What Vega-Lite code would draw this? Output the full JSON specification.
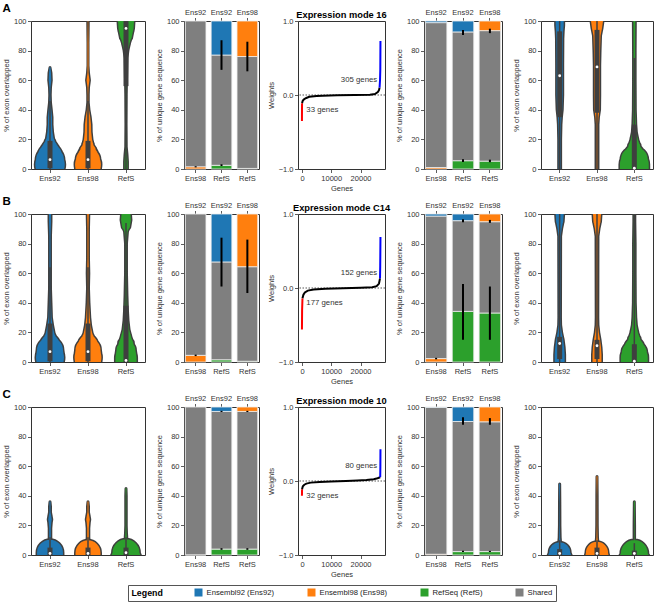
{
"$schema": "https://vega.github.io/schema/vega-lite/v6.json",
"padding": {"left": 1, "top": 2, "right": 2, "bottom": 2},
"datasets": {
"viol": [
{"p":"A1","c":"Ens92","y":0,"d":0.875},{"p":"A1","c":"Ens92","y":3,"d":0.92},{"p":"A1","c":"Ens92","y":6,"d":0.875},{"p":"A1","c":"Ens92","y":9,"d":0.75},{"p":"A1","c":"Ens92","y":12,"d":0.59},{"p":"A1","c":"Ens92","y":15,"d":0.44},{"p":"A1","c":"Ens92","y":18,"d":0.31},{"p":"A1","c":"Ens92","y":21,"d":0.22},{"p":"A1","c":"Ens92","y":25,"d":0.16},{"p":"A1","c":"Ens92","y":30,"d":0.125},{"p":"A1","c":"Ens92","y":35,"d":0.125},{"p":"A1","c":"Ens92","y":40,"d":0.08},{"p":"A1","c":"Ens92","y":45,"d":0.03},{"p":"A1","c":"Ens92","y":50,"d":0.015},{"p":"A1","c":"Ens92","y":55,"d":0.03},{"p":"A1","c":"Ens92","y":60,"d":0.08},{"p":"A1","c":"Ens92","y":65,"d":0.06},{"p":"A1","c":"Ens92","y":68.5,"d":0},
{"p":"A1","c":"Ens98","y":0,"d":0.78},{"p":"A1","c":"Ens98","y":3,"d":0.81},{"p":"A1","c":"Ens98","y":6,"d":0.75},{"p":"A1","c":"Ens98","y":9,"d":0.62},{"p":"A1","c":"Ens98","y":12,"d":0.5},{"p":"A1","c":"Ens98","y":16,"d":0.34},{"p":"A1","c":"Ens98","y":20,"d":0.25},{"p":"A1","c":"Ens98","y":25,"d":0.2},{"p":"A1","c":"Ens98","y":30,"d":0.19},{"p":"A1","c":"Ens98","y":35,"d":0.14},{"p":"A1","c":"Ens98","y":40,"d":0.06},{"p":"A1","c":"Ens98","y":45,"d":0.015},{"p":"A1","c":"Ens98","y":50,"d":0.015},{"p":"A1","c":"Ens98","y":55,"d":0.03},{"p":"A1","c":"Ens98","y":60,"d":0.09},{"p":"A1","c":"Ens98","y":65,"d":0.03},{"p":"A1","c":"Ens98","y":70,"d":0},{"p":"A1","c":"Ens98","y":85,"d":0},{"p":"A1","c":"Ens98","y":100,"d":0.015},
{"p":"A1","c":"RefS","y":0,"d":0.09},{"p":"A1","c":"RefS","y":5,"d":0.09},{"p":"A1","c":"RefS","y":10,"d":0.06},{"p":"A1","c":"RefS","y":15,"d":0.015},{"p":"A1","c":"RefS","y":30,"d":0.005},{"p":"A1","c":"RefS","y":50,"d":0.015},{"p":"A1","c":"RefS","y":60,"d":0.03},{"p":"A1","c":"RefS","y":70,"d":0.05},{"p":"A1","c":"RefS","y":75,"d":0.06},{"p":"A1","c":"RefS","y":80,"d":0.12},{"p":"A1","c":"RefS","y":85,"d":0.22},{"p":"A1","c":"RefS","y":90,"d":0.375},{"p":"A1","c":"RefS","y":95,"d":0.47},{"p":"A1","c":"RefS","y":100,"d":0.5},
{"p":"A5","c":"Ens92","y":0,"d":0.06},{"p":"A5","c":"Ens92","y":20,"d":0.06},{"p":"A5","c":"Ens92","y":30,"d":0.08},{"p":"A5","c":"Ens92","y":35,"d":0.11},{"p":"A5","c":"Ens92","y":40,"d":0.16},{"p":"A5","c":"Ens92","y":50,"d":0.19},{"p":"A5","c":"Ens92","y":70,"d":0.19},{"p":"A5","c":"Ens92","y":88,"d":0.2},{"p":"A5","c":"Ens92","y":93,"d":0.22},{"p":"A5","c":"Ens92","y":97,"d":0.25},{"p":"A5","c":"Ens92","y":100,"d":0.25},
{"p":"A5","c":"Ens98","y":0,"d":0.06},{"p":"A5","c":"Ens98","y":30,"d":0.06},{"p":"A5","c":"Ens98","y":35,"d":0.09},{"p":"A5","c":"Ens98","y":40,"d":0.16},{"p":"A5","c":"Ens98","y":50,"d":0.17},{"p":"A5","c":"Ens98","y":70,"d":0.17},{"p":"A5","c":"Ens98","y":80,"d":0.19},{"p":"A5","c":"Ens98","y":90,"d":0.22},{"p":"A5","c":"Ens98","y":95,"d":0.31},{"p":"A5","c":"Ens98","y":100,"d":0.375},
{"p":"A5","c":"RefS","y":0,"d":0.9},{"p":"A5","c":"RefS","y":3,"d":0.9},{"p":"A5","c":"RefS","y":6,"d":0.84},{"p":"A5","c":"RefS","y":10,"d":0.59},{"p":"A5","c":"RefS","y":15,"d":0.375},{"p":"A5","c":"RefS","y":20,"d":0.22},{"p":"A5","c":"RefS","y":25,"d":0.125},{"p":"A5","c":"RefS","y":30,"d":0.09},{"p":"A5","c":"RefS","y":40,"d":0.06},{"p":"A5","c":"RefS","y":60,"d":0.05},{"p":"A5","c":"RefS","y":80,"d":0.05},{"p":"A5","c":"RefS","y":100,"d":0.06},
{"p":"B1","c":"Ens92","y":0,"d":0.84},{"p":"B1","c":"Ens92","y":3,"d":0.875},{"p":"B1","c":"Ens92","y":8,"d":0.81},{"p":"B1","c":"Ens92","y":12,"d":0.59},{"p":"B1","c":"Ens92","y":16,"d":0.375},{"p":"B1","c":"Ens92","y":20,"d":0.25},{"p":"B1","c":"Ens92","y":25,"d":0.16},{"p":"B1","c":"Ens92","y":30,"d":0.09},{"p":"B1","c":"Ens92","y":40,"d":0.06},{"p":"B1","c":"Ens92","y":50,"d":0.03},{"p":"B1","c":"Ens92","y":85,"d":0.03},{"p":"B1","c":"Ens92","y":95,"d":0.06},{"p":"B1","c":"Ens92","y":100,"d":0.06},
{"p":"B1","c":"Ens98","y":0,"d":0.81},{"p":"B1","c":"Ens98","y":3,"d":0.84},{"p":"B1","c":"Ens98","y":8,"d":0.78},{"p":"B1","c":"Ens98","y":12,"d":0.59},{"p":"B1","c":"Ens98","y":16,"d":0.375},{"p":"B1","c":"Ens98","y":20,"d":0.25},{"p":"B1","c":"Ens98","y":25,"d":0.16},{"p":"B1","c":"Ens98","y":30,"d":0.11},{"p":"B1","c":"Ens98","y":40,"d":0.06},{"p":"B1","c":"Ens98","y":50,"d":0.03},{"p":"B1","c":"Ens98","y":60,"d":0.05},{"p":"B1","c":"Ens98","y":70,"d":0.03},{"p":"B1","c":"Ens98","y":90,"d":0.03},{"p":"B1","c":"Ens98","y":100,"d":0.05},
{"p":"B1","c":"RefS","y":0,"d":0.66},{"p":"B1","c":"RefS","y":3,"d":0.66},{"p":"B1","c":"RefS","y":8,"d":0.59},{"p":"B1","c":"RefS","y":12,"d":0.47},{"p":"B1","c":"RefS","y":17,"d":0.31},{"p":"B1","c":"RefS","y":22,"d":0.19},{"p":"B1","c":"RefS","y":28,"d":0.125},{"p":"B1","c":"RefS","y":35,"d":0.09},{"p":"B1","c":"RefS","y":45,"d":0.06},{"p":"B1","c":"RefS","y":60,"d":0.03},{"p":"B1","c":"RefS","y":80,"d":0.03},{"p":"B1","c":"RefS","y":88,"d":0.09},{"p":"B1","c":"RefS","y":92,"d":0.25},{"p":"B1","c":"RefS","y":96,"d":0.31},{"p":"B1","c":"RefS","y":100,"d":0.28},
{"p":"B5","c":"Ens92","y":0,"d":0.31},{"p":"B5","c":"Ens92","y":5,"d":0.31},{"p":"B5","c":"Ens92","y":10,"d":0.28},{"p":"B5","c":"Ens92","y":15,"d":0.22},{"p":"B5","c":"Ens92","y":20,"d":0.125},{"p":"B5","c":"Ens92","y":25,"d":0.06},{"p":"B5","c":"Ens92","y":30,"d":0.05},{"p":"B5","c":"Ens92","y":85,"d":0.06},{"p":"B5","c":"Ens92","y":90,"d":0.125},{"p":"B5","c":"Ens92","y":95,"d":0.22},{"p":"B5","c":"Ens92","y":100,"d":0.25},
{"p":"B5","c":"Ens98","y":0,"d":0.28},{"p":"B5","c":"Ens98","y":5,"d":0.28},{"p":"B5","c":"Ens98","y":10,"d":0.25},{"p":"B5","c":"Ens98","y":15,"d":0.19},{"p":"B5","c":"Ens98","y":20,"d":0.11},{"p":"B5","c":"Ens98","y":25,"d":0.06},{"p":"B5","c":"Ens98","y":30,"d":0.05},{"p":"B5","c":"Ens98","y":85,"d":0.06},{"p":"B5","c":"Ens98","y":90,"d":0.125},{"p":"B5","c":"Ens98","y":95,"d":0.22},{"p":"B5","c":"Ens98","y":100,"d":0.25},
{"p":"B5","c":"RefS","y":0,"d":0.84},{"p":"B5","c":"RefS","y":3,"d":0.84},{"p":"B5","c":"RefS","y":6,"d":0.78},{"p":"B5","c":"RefS","y":10,"d":0.59},{"p":"B5","c":"RefS","y":15,"d":0.375},{"p":"B5","c":"RefS","y":20,"d":0.22},{"p":"B5","c":"RefS","y":25,"d":0.125},{"p":"B5","c":"RefS","y":30,"d":0.09},{"p":"B5","c":"RefS","y":40,"d":0.06},{"p":"B5","c":"RefS","y":60,"d":0.05},{"p":"B5","c":"RefS","y":80,"d":0.05},{"p":"B5","c":"RefS","y":95,"d":0.03},{"p":"B5","c":"RefS","y":100,"d":0.03},
{"p":"C1","c":"Ens92","y":0,"d":0.81},{"p":"C1","c":"Ens92","y":1.5,"d":0.81},{"p":"C1","c":"Ens92","y":3,"d":0.53},{"p":"C1","c":"Ens92","y":5,"d":0.22},{"p":"C1","c":"Ens92","y":8,"d":0.09},{"p":"C1","c":"Ens92","y":12,"d":0.05},{"p":"C1","c":"Ens92","y":18,"d":0.05},{"p":"C1","c":"Ens92","y":22,"d":0.08},{"p":"C1","c":"Ens92","y":24,"d":0.11},{"p":"C1","c":"Ens92","y":26,"d":0.08},{"p":"C1","c":"Ens92","y":29,"d":0.03},{"p":"C1","c":"Ens92","y":33,"d":0.03},{"p":"C1","c":"Ens92","y":36,"d":0},
{"p":"C1","c":"Ens98","y":0,"d":0.78},{"p":"C1","c":"Ens98","y":1.5,"d":0.78},{"p":"C1","c":"Ens98","y":3,"d":0.5},{"p":"C1","c":"Ens98","y":5,"d":0.22},{"p":"C1","c":"Ens98","y":8,"d":0.09},{"p":"C1","c":"Ens98","y":12,"d":0.05},{"p":"C1","c":"Ens98","y":18,"d":0.05},{"p":"C1","c":"Ens98","y":22,"d":0.08},{"p":"C1","c":"Ens98","y":24,"d":0.11},{"p":"C1","c":"Ens98","y":26,"d":0.08},{"p":"C1","c":"Ens98","y":29,"d":0.03},{"p":"C1","c":"Ens98","y":33,"d":0.03},{"p":"C1","c":"Ens98","y":36,"d":0},
{"p":"C1","c":"RefS","y":0,"d":0.9},{"p":"C1","c":"RefS","y":1.5,"d":0.84},{"p":"C1","c":"RefS","y":3,"d":0.47},{"p":"C1","c":"RefS","y":6,"d":0.16},{"p":"C1","c":"RefS","y":10,"d":0.06},{"p":"C1","c":"RefS","y":15,"d":0.03},{"p":"C1","c":"RefS","y":20,"d":0.015},{"p":"C1","c":"RefS","y":40,"d":0.015},{"p":"C1","c":"RefS","y":45,"d":0},
{"p":"C5","c":"Ens92","y":0,"d":0.72},{"p":"C5","c":"Ens92","y":1.5,"d":0.66},{"p":"C5","c":"Ens92","y":3,"d":0.34},{"p":"C5","c":"Ens92","y":5,"d":0.16},{"p":"C5","c":"Ens92","y":8,"d":0.06},{"p":"C5","c":"Ens92","y":12,"d":0.03},{"p":"C5","c":"Ens92","y":20,"d":0.015},{"p":"C5","c":"Ens92","y":35,"d":0.01},{"p":"C5","c":"Ens92","y":48,"d":0},
{"p":"C5","c":"Ens98","y":0,"d":0.72},{"p":"C5","c":"Ens98","y":1.5,"d":0.69},{"p":"C5","c":"Ens98","y":3,"d":0.41},{"p":"C5","c":"Ens98","y":5,"d":0.22},{"p":"C5","c":"Ens98","y":8,"d":0.06},{"p":"C5","c":"Ens98","y":12,"d":0.03},{"p":"C5","c":"Ens98","y":20,"d":0.015},{"p":"C5","c":"Ens98","y":40,"d":0.01},{"p":"C5","c":"Ens98","y":53,"d":0},
{"p":"C5","c":"RefS","y":0,"d":0.9},{"p":"C5","c":"RefS","y":1,"d":0.84},{"p":"C5","c":"RefS","y":2,"d":0.53},{"p":"C5","c":"RefS","y":4,"d":0.16},{"p":"C5","c":"RefS","y":6,"d":0.06},{"p":"C5","c":"RefS","y":10,"d":0.015},{"p":"C5","c":"RefS","y":20,"d":0.015},{"p":"C5","c":"RefS","y":36,"d":0}
],
"box": [
{"p":"A1","c":"Ens92","q1":0.5,"q3":19,"med":6.3,"lo":0,"hi":46},{"p":"A1","c":"Ens98","q1":0.5,"q3":19,"med":6.3,"lo":0,"hi":46},{"p":"A1","c":"RefS","q1":56,"q3":100,"med":95,"lo":0,"hi":100},
{"p":"A5","c":"Ens92","q1":35,"q3":93,"med":63,"lo":0,"hi":100},{"p":"A5","c":"Ens98","q1":38,"q3":94,"med":69,"lo":0,"hi":100},{"p":"A5","c":"RefS","q1":0,"q3":30,"med":0.5,"lo":0,"hi":75},
{"p":"B1","c":"Ens92","q1":0.5,"q3":26,"med":7,"lo":0,"hi":64},{"p":"B1","c":"Ens98","q1":0.5,"q3":26,"med":7,"lo":0,"hi":64},{"p":"B1","c":"RefS","q1":0,"q3":38,"med":1,"lo":0,"hi":94},
{"p":"B5","c":"Ens92","q1":2,"q3":17,"med":12.5,"lo":0,"hi":100},{"p":"B5","c":"Ens98","q1":2,"q3":15,"med":11,"lo":0,"hi":100},{"p":"B5","c":"RefS","q1":0,"q3":12,"med":0.5,"lo":0,"hi":100},
{"p":"C1","c":"Ens92","q1":0,"q3":5,"med":1,"lo":0,"hi":12},{"p":"C1","c":"Ens98","q1":0,"q3":5,"med":1,"lo":0,"hi":12},{"p":"C1","c":"RefS","q1":0,"q3":5,"med":1.5,"lo":0,"hi":12},
{"p":"C5","c":"Ens92","q1":0,"q3":4,"med":1,"lo":0,"hi":10},{"p":"C5","c":"Ens98","q1":0,"q3":5,"med":1,"lo":0,"hi":10},{"p":"C5","c":"RefS","q1":0,"q3":3,"med":1,"lo":0,"hi":8}
],
"bars": [
{"p":"A2","pair":"Ens92 vs Ens98","src":"Ensembl98 (Ens98)","o":1,"v":1.5},{"p":"A2","pair":"Ens92 vs Ens98","src":"Shared","o":2,"v":98.5},
{"p":"A2","pair":"Ens92 vs RefS","src":"RefSeq (RefS)","o":1,"v":2.5},{"p":"A2","pair":"Ens92 vs RefS","src":"Shared","o":2,"v":74.5},{"p":"A2","pair":"Ens92 vs RefS","src":"Ensembl92 (Ens92)","o":3,"v":23},
{"p":"A2","pair":"Ens98 vs RefS","src":"RefSeq (RefS)","o":1,"v":0.4},{"p":"A2","pair":"Ens98 vs RefS","src":"Shared","o":2,"v":75.6},{"p":"A2","pair":"Ens98 vs RefS","src":"Ensembl98 (Ens98)","o":3,"v":24},
{"p":"A4","pair":"Ens92 vs Ens98","src":"Ensembl98 (Ens98)","o":1,"v":1.0},{"p":"A4","pair":"Ens92 vs Ens98","src":"Shared","o":2,"v":97.9},{"p":"A4","pair":"Ens92 vs Ens98","src":"Ensembl92 (Ens92)","o":3,"v":1.1},
{"p":"A4","pair":"Ens92 vs RefS","src":"RefSeq (RefS)","o":1,"v":5.6},{"p":"A4","pair":"Ens92 vs RefS","src":"Shared","o":2,"v":87.0},{"p":"A4","pair":"Ens92 vs RefS","src":"Ensembl92 (Ens92)","o":3,"v":7.4},
{"p":"A4","pair":"Ens98 vs RefS","src":"RefSeq (RefS)","o":1,"v":5.3},{"p":"A4","pair":"Ens98 vs RefS","src":"Shared","o":2,"v":88.2},{"p":"A4","pair":"Ens98 vs RefS","src":"Ensembl98 (Ens98)","o":3,"v":6.5},
{"p":"B2","pair":"Ens92 vs Ens98","src":"Ensembl98 (Ens98)","o":1,"v":4.5},{"p":"B2","pair":"Ens92 vs Ens98","src":"Shared","o":2,"v":95.5},
{"p":"B2","pair":"Ens92 vs RefS","src":"RefSeq (RefS)","o":1,"v":1.5},{"p":"B2","pair":"Ens92 vs RefS","src":"Shared","o":2,"v":66.1},{"p":"B2","pair":"Ens92 vs RefS","src":"Ensembl92 (Ens92)","o":3,"v":32.4},
{"p":"B2","pair":"Ens98 vs RefS","src":"RefSeq (RefS)","o":1,"v":0.5},{"p":"B2","pair":"Ens98 vs RefS","src":"Shared","o":2,"v":63.9},{"p":"B2","pair":"Ens98 vs RefS","src":"Ensembl98 (Ens98)","o":3,"v":35.6},
{"p":"B4","pair":"Ens92 vs Ens98","src":"Ensembl98 (Ens98)","o":1,"v":2.3},{"p":"B4","pair":"Ens92 vs Ens98","src":"Shared","o":2,"v":96.3},{"p":"B4","pair":"Ens92 vs Ens98","src":"Ensembl92 (Ens92)","o":3,"v":1.4},
{"p":"B4","pair":"Ens92 vs RefS","src":"RefSeq (RefS)","o":1,"v":34.2},{"p":"B4","pair":"Ens92 vs RefS","src":"Shared","o":2,"v":61.3},{"p":"B4","pair":"Ens92 vs RefS","src":"Ensembl92 (Ens92)","o":3,"v":4.5},
{"p":"B4","pair":"Ens98 vs RefS","src":"RefSeq (RefS)","o":1,"v":33.1},{"p":"B4","pair":"Ens98 vs RefS","src":"Shared","o":2,"v":61.7},{"p":"B4","pair":"Ens98 vs RefS","src":"Ensembl98 (Ens98)","o":3,"v":5.2},
{"p":"C2","pair":"Ens92 vs Ens98","src":"Ensembl98 (Ens98)","o":1,"v":0.1},{"p":"C2","pair":"Ens92 vs Ens98","src":"Shared","o":2,"v":99.9},
{"p":"C2","pair":"Ens92 vs RefS","src":"RefSeq (RefS)","o":1,"v":4},{"p":"C2","pair":"Ens92 vs RefS","src":"Shared","o":2,"v":93},{"p":"C2","pair":"Ens92 vs RefS","src":"Ensembl92 (Ens92)","o":3,"v":3},
{"p":"C2","pair":"Ens98 vs RefS","src":"RefSeq (RefS)","o":1,"v":4},{"p":"C2","pair":"Ens98 vs RefS","src":"Shared","o":2,"v":93},{"p":"C2","pair":"Ens98 vs RefS","src":"Ensembl98 (Ens98)","o":3,"v":3},
{"p":"C4","pair":"Ens92 vs Ens98","src":"Ensembl98 (Ens98)","o":1,"v":0.5},{"p":"C4","pair":"Ens92 vs Ens98","src":"Shared","o":2,"v":99.2},{"p":"C4","pair":"Ens92 vs Ens98","src":"Ensembl92 (Ens92)","o":3,"v":0.3},
{"p":"C4","pair":"Ens92 vs RefS","src":"RefSeq (RefS)","o":1,"v":2.3},{"p":"C4","pair":"Ens92 vs RefS","src":"Shared","o":2,"v":87.9},{"p":"C4","pair":"Ens92 vs RefS","src":"Ensembl92 (Ens92)","o":3,"v":9.8},
{"p":"C4","pair":"Ens98 vs RefS","src":"RefSeq (RefS)","o":1,"v":2.3},{"p":"C4","pair":"Ens98 vs RefS","src":"Shared","o":2,"v":87.7},{"p":"C4","pair":"Ens98 vs RefS","src":"Ensembl98 (Ens98)","o":3,"v":10}
],
"errs": [
{"p":"A2","pair":"Ens92 vs Ens98","lo":1.1,"hi":1.9},{"p":"A2","pair":"Ens92 vs RefS","lo":2.0,"hi":3.2},{"p":"A2","pair":"Ens92 vs RefS","lo":67,"hi":87},{"p":"A2","pair":"Ens98 vs RefS","lo":66,"hi":86},
{"p":"A4","pair":"Ens92 vs RefS","lo":4.8,"hi":6.6},{"p":"A4","pair":"Ens92 vs RefS","lo":90.5,"hi":94},{"p":"A4","pair":"Ens98 vs RefS","lo":4.6,"hi":6.3},{"p":"A4","pair":"Ens98 vs RefS","lo":91.8,"hi":94.8},
{"p":"B2","pair":"Ens92 vs Ens98","lo":4,"hi":5},{"p":"B2","pair":"Ens92 vs RefS","lo":51,"hi":84},{"p":"B2","pair":"Ens98 vs RefS","lo":46.6,"hi":82.7},
{"p":"B4","pair":"Ens92 vs Ens98","lo":1.8,"hi":2.8},{"p":"B4","pair":"Ens92 vs RefS","lo":15,"hi":52.7},{"p":"B4","pair":"Ens92 vs RefS","lo":94.5,"hi":96.4},{"p":"B4","pair":"Ens98 vs RefS","lo":15,"hi":51},{"p":"B4","pair":"Ens98 vs RefS","lo":94,"hi":96},
{"p":"C2","pair":"Ens92 vs RefS","lo":3.5,"hi":4.6},{"p":"C2","pair":"Ens92 vs RefS","lo":96.6,"hi":97.4},{"p":"C2","pair":"Ens98 vs RefS","lo":3.5,"hi":4.6},{"p":"C2","pair":"Ens98 vs RefS","lo":96.6,"hi":97.4},
{"p":"C4","pair":"Ens92 vs RefS","lo":2,"hi":2.8},{"p":"C4","pair":"Ens92 vs RefS","lo":88,"hi":93.1},{"p":"C4","pair":"Ens98 vs RefS","lo":2,"hi":2.8},{"p":"C4","pair":"Ens98 vs RefS","lo":88,"hi":92.5}
],
"lines": [
{"p":"A3","s":"neg","x":0,"w":-0.35},{"p":"A3","s":"neg","x":12,"w":-0.2},{"p":"A3","s":"neg","x":33,"w":-0.11},
{"p":"A3","s":"mid","x":33,"w":-0.11},{"p":"A3","s":"mid","x":300,"w":-0.075},{"p":"A3","s":"mid","x":800,"w":-0.054},{"p":"A3","s":"mid","x":1500,"w":-0.04},{"p":"A3","s":"mid","x":2500,"w":-0.025},{"p":"A3","s":"mid","x":5000,"w":-0.014},{"p":"A3","s":"mid","x":7100,"w":-0.009},{"p":"A3","s":"mid","x":12000,"w":-0.004},{"p":"A3","s":"mid","x":18000,"w":0},{"p":"A3","s":"mid","x":23200,"w":0.004},{"p":"A3","s":"mid","x":24900,"w":0.014},{"p":"A3","s":"mid","x":25900,"w":0.04},{"p":"A3","s":"mid","x":26300,"w":0.065},{"p":"A3","s":"mid","x":26495,"w":0.1},
{"p":"A3","s":"pos","x":26495,"w":0.1},{"p":"A3","s":"pos","x":26650,"w":0.2},{"p":"A3","s":"pos","x":26750,"w":0.35},{"p":"A3","s":"pos","x":26800,"w":0.73},
{"p":"B3","s":"neg","x":0,"w":-0.56},{"p":"B3","s":"neg","x":50,"w":-0.3},{"p":"B3","s":"neg","x":177,"w":-0.14},
{"p":"B3","s":"mid","x":177,"w":-0.14},{"p":"B3","s":"mid","x":500,"w":-0.09},{"p":"B3","s":"mid","x":1000,"w":-0.06},{"p":"B3","s":"mid","x":2000,"w":-0.035},{"p":"B3","s":"mid","x":4000,"w":-0.02},{"p":"B3","s":"mid","x":8000,"w":-0.01},{"p":"B3","s":"mid","x":14000,"w":-0.003},{"p":"B3","s":"mid","x":20000,"w":0.003},{"p":"B3","s":"mid","x":24000,"w":0.01},{"p":"B3","s":"mid","x":25500,"w":0.025},{"p":"B3","s":"mid","x":26300,"w":0.06},{"p":"B3","s":"mid","x":26648,"w":0.13},
{"p":"B3","s":"pos","x":26648,"w":0.13},{"p":"B3","s":"pos","x":26720,"w":0.3},{"p":"B3","s":"pos","x":26800,"w":0.69},
{"p":"C3","s":"neg","x":0,"w":-0.2},{"p":"C3","s":"neg","x":32,"w":-0.11},
{"p":"C3","s":"mid","x":32,"w":-0.11},{"p":"C3","s":"mid","x":300,"w":-0.07},{"p":"C3","s":"mid","x":800,"w":-0.05},{"p":"C3","s":"mid","x":1500,"w":-0.035},{"p":"C3","s":"mid","x":3000,"w":-0.022},{"p":"C3","s":"mid","x":6000,"w":-0.012},{"p":"C3","s":"mid","x":10000,"w":-0.006},{"p":"C3","s":"mid","x":15000,"w":0},{"p":"C3","s":"mid","x":19000,"w":0.006},{"p":"C3","s":"mid","x":22000,"w":0.013},{"p":"C3","s":"mid","x":24500,"w":0.025},{"p":"C3","s":"mid","x":25800,"w":0.038},{"p":"C3","s":"mid","x":26720,"w":0.05},
{"p":"C3","s":"pos","x":26720,"w":0.05},{"p":"C3","s":"pos","x":26770,"w":0.2},{"p":"C3","s":"pos","x":26800,"w":0.43}
],
"ann": [
{"p":"A3","side":"pos","label":"305 genes"},{"p":"A3","side":"neg","label":"33 genes"},
{"p":"B3","side":"pos","label":"152 genes"},{"p":"B3","side":"neg","label":"177 genes"},
{"p":"C3","side":"pos","label":"80 genes"},{"p":"C3","side":"neg","label":"32 genes"}
],
"leg": [{"src":"Ensembl92 (Ens92)"},{"src":"Ensembl98 (Ens98)"},{"src":"RefSeq (RefS)"},{"src":"Shared"}]
},
"concat": [
{"width":114,"height":148,"title":{"text":"A","anchor":"start","frame":"bounds","fontSize":11.5,"offset":3},
"layer":[
{"data":{"name":"viol"},"transform":[{"filter":"datum.p==='A1'"}],"mark":{"type":"trail","color":"#3f3f3f","clip":true},"encoding":{"x":{"field":"c","type":"nominal","axis":{"title":null,"labelAngle":0}},"y":{"field":"y","type":"quantitative","scale":{"domain":[0,100],"nice":false},"title":"% of exon overlapped","axis":{"values":[0,20,40,60,80,100]}},"detail":{"field":"c"},"order":{"field":"y","type":"quantitative"},"size":{"field":"d","type":"quantitative","scale":{"domain":[0,1],"range":[3,35]},"legend":null}}},
{"data":{"name":"viol"},"transform":[{"filter":"datum.p==='A1'"}],"mark":{"type":"trail","clip":true},"encoding":{"x":{"field":"c","type":"nominal","axis":{"title":null,"labelAngle":0}},"y":{"field":"y","type":"quantitative","scale":{"domain":[0,100],"nice":false},"title":"% of exon overlapped","axis":{"values":[0,20,40,60,80,100]}},"color":{"field":"c","type":"nominal","scale":{"domain":["Ens92","Ens98","RefS"],"range":["#1f77b4","#ff7f0e","#2ca02c"]},"legend":null},"order":{"field":"y","type":"quantitative"},"size":{"field":"d","type":"quantitative","scale":{"domain":[0,1],"range":[0,32]},"legend":null}}},
{"data":{"name":"box"},"transform":[{"filter":"datum.p==='A1'"}],"mark":{"type":"rule","color":"#3f3f3f","strokeWidth":1.5},"encoding":{"x":{"field":"c","type":"nominal","axis":{"title":null,"labelAngle":0}},"y":{"field":"lo","type":"quantitative","scale":{"domain":[0,100],"nice":false},"title":"% of exon overlapped","axis":{"values":[0,20,40,60,80,100]}},"y2":{"field":"hi"}}},
{"data":{"name":"box"},"transform":[{"filter":"datum.p==='A1'"}],"mark":{"type":"rule","color":"#3f3f3f","strokeWidth":5},"encoding":{"x":{"field":"c","type":"nominal","axis":{"title":null,"labelAngle":0}},"y":{"field":"q1","type":"quantitative","scale":{"domain":[0,100],"nice":false},"title":"% of exon overlapped","axis":{"values":[0,20,40,60,80,100]}},"y2":{"field":"q3"}}},
{"data":{"name":"box"},"transform":[{"filter":"datum.p==='A1'"}],"mark":{"type":"point","filled":true,"color":"#ffffff","opacity":1,"size":8},"encoding":{"x":{"field":"c","type":"nominal","axis":{"title":null,"labelAngle":0}},"y":{"field":"med","type":"quantitative","scale":{"domain":[0,100],"nice":false},"title":"% of exon overlapped","axis":{"values":[0,20,40,60,80,100]}}}}
],"resolve":{"scale":{"size":"independent"}}},
{"width":75,"height":148,
"layer":[
{"data":{"name":"bars"},"transform":[{"filter":"datum.p==='A2'"}],"mark":{"type":"bar","stroke":"#eeeeee","strokeWidth":0.8},"encoding":{"x":{"field":"pair","type":"nominal","scale":{"paddingInner":0.2,"paddingOuter":0.05},"axis":{"orient":"bottom","title":null,"labelAngle":0,"labelExpr":"split(datum.value, ' vs ')[1]"}},"y":{"field":"v","type":"quantitative","stack":"zero","scale":{"domain":[0,100],"nice":false},"title":"% of unique gene sequence","axis":{"values":[0,20,40,60,80,100]}},"color":{"field":"src","type":"nominal","scale":{"domain":["Ensembl92 (Ens92)","Ensembl98 (Ens98)","RefSeq (RefS)","Shared"],"range":["#1f77b4","#ff7f0e","#2ca02c","#7f7f7f"]},"legend":null},"order":{"field":"o","type":"quantitative"}}},
{"data":{"name":"errs"},"transform":[{"filter":"datum.p==='A2'"}],"mark":{"type":"rule","color":"#000000","strokeWidth":2},"encoding":{"x":{"field":"pair","type":"nominal","axis":{"orient":"top","title":null,"labelAngle":0,"labelExpr":"split(datum.value, ' vs ')[0]"}},"y":{"field":"lo","type":"quantitative","scale":{"domain":[0,100],"nice":false},"title":"% of unique gene sequence","axis":{"values":[0,20,40,60,80,100]}},"y2":{"field":"hi"}}}
],"resolve":{"axis":{"x":"independent"}}},
{"width":87,"height":148,"title":{"text":"Expression mode 16","fontSize":9.3,"anchor":"middle","frame":"group","offset":-3},
"layer":[
{"data":{"values":[{}]},"mark":{"type":"rule","color":"#444444","strokeDash":[1.5,1.5],"strokeWidth":0.9},"encoding":{"y":{"datum":0,"type":"quantitative","scale":{"domain":[-1,1],"nice":false},"title":"Weights","axis":{"values":[-1,-0.5,0,0.5,1],"format":".1f"}}}},
{"data":{"name":"lines"},"transform":[{"filter":"datum.p==='A3'"}],"mark":{"type":"line","strokeWidth":2,"clip":true},"encoding":{"x":{"field":"x","type":"quantitative","scale":{"domain":[-1350,28350],"nice":false,"zero":false},"title":"Genes","axis":{"values":[0,10000,20000],"format":"d"}},"y":{"field":"w","type":"quantitative","scale":{"domain":[-1,1],"nice":false},"title":"Weights","axis":{"values":[-1,-0.5,0,0.5,1],"format":".1f"}},"color":{"field":"s","type":"nominal","scale":{"domain":["neg","mid","pos"],"range":["#ff0000","#000000","#0000ff"]},"legend":null},"order":{"field":"x","type":"quantitative"}}},
{"data":{"name":"ann"},"transform":[{"filter":"datum.p==='A3' && datum.side==='pos'"}],"mark":{"type":"text","align":"right","baseline":"middle","fontSize":7.8,"color":"#333333"},"encoding":{"x":{"datum":25700,"type":"quantitative"},"y":{"datum":0.2,"type":"quantitative"},"text":{"field":"label"}}},
{"data":{"name":"ann"},"transform":[{"filter":"datum.p==='A3' && datum.side==='neg'"}],"mark":{"type":"text","align":"left","baseline":"middle","fontSize":7.8,"color":"#333333"},"encoding":{"x":{"datum":1500,"type":"quantitative"},"y":{"datum":-0.2,"type":"quantitative"},"text":{"field":"label"}}}
]},
{"width":78,"height":148,
"layer":[
{"data":{"name":"bars"},"transform":[{"filter":"datum.p==='A4'"}],"mark":{"type":"bar","stroke":"#eeeeee","strokeWidth":0.8},"encoding":{"x":{"field":"pair","type":"nominal","scale":{"paddingInner":0.2,"paddingOuter":0.05},"axis":{"orient":"bottom","title":null,"labelAngle":0,"labelExpr":"split(datum.value, ' vs ')[1]"}},"y":{"field":"v","type":"quantitative","stack":"zero","scale":{"domain":[0,100],"nice":false},"title":"% of unique gene sequence","axis":{"values":[0,20,40,60,80,100]}},"color":{"field":"src","type":"nominal","scale":{"domain":["Ensembl92 (Ens92)","Ensembl98 (Ens98)","RefSeq (RefS)","Shared"],"range":["#1f77b4","#ff7f0e","#2ca02c","#7f7f7f"]},"legend":null},"order":{"field":"o","type":"quantitative"}}},
{"data":{"name":"errs"},"transform":[{"filter":"datum.p==='A4'"}],"mark":{"type":"rule","color":"#000000","strokeWidth":2},"encoding":{"x":{"field":"pair","type":"nominal","axis":{"orient":"top","title":null,"labelAngle":0,"labelExpr":"split(datum.value, ' vs ')[0]"}},"y":{"field":"lo","type":"quantitative","scale":{"domain":[0,100],"nice":false},"title":"% of unique gene sequence","axis":{"values":[0,20,40,60,80,100]}},"y2":{"field":"hi"}}}
],"resolve":{"axis":{"x":"independent"}}},
{"width":112,"height":148,
"layer":[
{"data":{"name":"viol"},"transform":[{"filter":"datum.p==='A5'"}],"mark":{"type":"trail","color":"#3f3f3f","clip":true},"encoding":{"x":{"field":"c","type":"nominal","axis":{"title":null,"labelAngle":0}},"y":{"field":"y","type":"quantitative","scale":{"domain":[0,100],"nice":false},"title":"% of exon overlapped","axis":{"values":[0,20,40,60,80,100]}},"detail":{"field":"c"},"order":{"field":"y","type":"quantitative"},"size":{"field":"d","type":"quantitative","scale":{"domain":[0,1],"range":[3,35]},"legend":null}}},
{"data":{"name":"viol"},"transform":[{"filter":"datum.p==='A5'"}],"mark":{"type":"trail","clip":true},"encoding":{"x":{"field":"c","type":"nominal","axis":{"title":null,"labelAngle":0}},"y":{"field":"y","type":"quantitative","scale":{"domain":[0,100],"nice":false},"title":"% of exon overlapped","axis":{"values":[0,20,40,60,80,100]}},"color":{"field":"c","type":"nominal","scale":{"domain":["Ens92","Ens98","RefS"],"range":["#1f77b4","#ff7f0e","#2ca02c"]},"legend":null},"order":{"field":"y","type":"quantitative"},"size":{"field":"d","type":"quantitative","scale":{"domain":[0,1],"range":[0,32]},"legend":null}}},
{"data":{"name":"box"},"transform":[{"filter":"datum.p==='A5'"}],"mark":{"type":"rule","color":"#3f3f3f","strokeWidth":1.5},"encoding":{"x":{"field":"c","type":"nominal","axis":{"title":null,"labelAngle":0}},"y":{"field":"lo","type":"quantitative","scale":{"domain":[0,100],"nice":false},"title":"% of exon overlapped","axis":{"values":[0,20,40,60,80,100]}},"y2":{"field":"hi"}}},
{"data":{"name":"box"},"transform":[{"filter":"datum.p==='A5'"}],"mark":{"type":"rule","color":"#3f3f3f","strokeWidth":5},"encoding":{"x":{"field":"c","type":"nominal","axis":{"title":null,"labelAngle":0}},"y":{"field":"q1","type":"quantitative","scale":{"domain":[0,100],"nice":false},"title":"% of exon overlapped","axis":{"values":[0,20,40,60,80,100]}},"y2":{"field":"q3"}}},
{"data":{"name":"box"},"transform":[{"filter":"datum.p==='A5'"}],"mark":{"type":"point","filled":true,"color":"#ffffff","opacity":1,"size":8},"encoding":{"x":{"field":"c","type":"nominal","axis":{"title":null,"labelAngle":0}},"y":{"field":"med","type":"quantitative","scale":{"domain":[0,100],"nice":false},"title":"% of exon overlapped","axis":{"values":[0,20,40,60,80,100]}}}}
],"resolve":{"scale":{"size":"independent"}}},

{"width":114,"height":148,"title":{"text":"B","anchor":"start","frame":"bounds","fontSize":11.5,"offset":3},
"layer":[
{"data":{"name":"viol"},"transform":[{"filter":"datum.p==='B1'"}],"mark":{"type":"trail","color":"#3f3f3f","clip":true},"encoding":{"x":{"field":"c","type":"nominal","axis":{"title":null,"labelAngle":0}},"y":{"field":"y","type":"quantitative","scale":{"domain":[0,100],"nice":false},"title":"% of exon overlapped","axis":{"values":[0,20,40,60,80,100]}},"detail":{"field":"c"},"order":{"field":"y","type":"quantitative"},"size":{"field":"d","type":"quantitative","scale":{"domain":[0,1],"range":[3,35]},"legend":null}}},
{"data":{"name":"viol"},"transform":[{"filter":"datum.p==='B1'"}],"mark":{"type":"trail","clip":true},"encoding":{"x":{"field":"c","type":"nominal","axis":{"title":null,"labelAngle":0}},"y":{"field":"y","type":"quantitative","scale":{"domain":[0,100],"nice":false},"title":"% of exon overlapped","axis":{"values":[0,20,40,60,80,100]}},"color":{"field":"c","type":"nominal","scale":{"domain":["Ens92","Ens98","RefS"],"range":["#1f77b4","#ff7f0e","#2ca02c"]},"legend":null},"order":{"field":"y","type":"quantitative"},"size":{"field":"d","type":"quantitative","scale":{"domain":[0,1],"range":[0,32]},"legend":null}}},
{"data":{"name":"box"},"transform":[{"filter":"datum.p==='B1'"}],"mark":{"type":"rule","color":"#3f3f3f","strokeWidth":1.5},"encoding":{"x":{"field":"c","type":"nominal","axis":{"title":null,"labelAngle":0}},"y":{"field":"lo","type":"quantitative","scale":{"domain":[0,100],"nice":false},"title":"% of exon overlapped","axis":{"values":[0,20,40,60,80,100]}},"y2":{"field":"hi"}}},
{"data":{"name":"box"},"transform":[{"filter":"datum.p==='B1'"}],"mark":{"type":"rule","color":"#3f3f3f","strokeWidth":5},"encoding":{"x":{"field":"c","type":"nominal","axis":{"title":null,"labelAngle":0}},"y":{"field":"q1","type":"quantitative","scale":{"domain":[0,100],"nice":false},"title":"% of exon overlapped","axis":{"values":[0,20,40,60,80,100]}},"y2":{"field":"q3"}}},
{"data":{"name":"box"},"transform":[{"filter":"datum.p==='B1'"}],"mark":{"type":"point","filled":true,"color":"#ffffff","opacity":1,"size":8},"encoding":{"x":{"field":"c","type":"nominal","axis":{"title":null,"labelAngle":0}},"y":{"field":"med","type":"quantitative","scale":{"domain":[0,100],"nice":false},"title":"% of exon overlapped","axis":{"values":[0,20,40,60,80,100]}}}}
],"resolve":{"scale":{"size":"independent"}}},
{"width":75,"height":148,
"layer":[
{"data":{"name":"bars"},"transform":[{"filter":"datum.p==='B2'"}],"mark":{"type":"bar","stroke":"#eeeeee","strokeWidth":0.8},"encoding":{"x":{"field":"pair","type":"nominal","scale":{"paddingInner":0.2,"paddingOuter":0.05},"axis":{"orient":"bottom","title":null,"labelAngle":0,"labelExpr":"split(datum.value, ' vs ')[1]"}},"y":{"field":"v","type":"quantitative","stack":"zero","scale":{"domain":[0,100],"nice":false},"title":"% of unique gene sequence","axis":{"values":[0,20,40,60,80,100]}},"color":{"field":"src","type":"nominal","scale":{"domain":["Ensembl92 (Ens92)","Ensembl98 (Ens98)","RefSeq (RefS)","Shared"],"range":["#1f77b4","#ff7f0e","#2ca02c","#7f7f7f"]},"legend":null},"order":{"field":"o","type":"quantitative"}}},
{"data":{"name":"errs"},"transform":[{"filter":"datum.p==='B2'"}],"mark":{"type":"rule","color":"#000000","strokeWidth":2},"encoding":{"x":{"field":"pair","type":"nominal","axis":{"orient":"top","title":null,"labelAngle":0,"labelExpr":"split(datum.value, ' vs ')[0]"}},"y":{"field":"lo","type":"quantitative","scale":{"domain":[0,100],"nice":false},"title":"% of unique gene sequence","axis":{"values":[0,20,40,60,80,100]}},"y2":{"field":"hi"}}}
],"resolve":{"axis":{"x":"independent"}}},
{"width":87,"height":148,"title":{"text":"Expression mode C14","fontSize":9.3,"anchor":"middle","frame":"group","offset":-3},
"layer":[
{"data":{"values":[{}]},"mark":{"type":"rule","color":"#444444","strokeDash":[1.5,1.5],"strokeWidth":0.9},"encoding":{"y":{"datum":0,"type":"quantitative","scale":{"domain":[-1,1],"nice":false},"title":"Weights","axis":{"values":[-1,-0.5,0,0.5,1],"format":".1f"}}}},
{"data":{"name":"lines"},"transform":[{"filter":"datum.p==='B3'"}],"mark":{"type":"line","strokeWidth":2,"clip":true},"encoding":{"x":{"field":"x","type":"quantitative","scale":{"domain":[-1350,28350],"nice":false,"zero":false},"title":"Genes","axis":{"values":[0,10000,20000],"format":"d"}},"y":{"field":"w","type":"quantitative","scale":{"domain":[-1,1],"nice":false},"title":"Weights","axis":{"values":[-1,-0.5,0,0.5,1],"format":".1f"}},"color":{"field":"s","type":"nominal","scale":{"domain":["neg","mid","pos"],"range":["#ff0000","#000000","#0000ff"]},"legend":null},"order":{"field":"x","type":"quantitative"}}},
{"data":{"name":"ann"},"transform":[{"filter":"datum.p==='B3' && datum.side==='pos'"}],"mark":{"type":"text","align":"right","baseline":"middle","fontSize":7.8,"color":"#333333"},"encoding":{"x":{"datum":25700,"type":"quantitative"},"y":{"datum":0.2,"type":"quantitative"},"text":{"field":"label"}}},
{"data":{"name":"ann"},"transform":[{"filter":"datum.p==='B3' && datum.side==='neg'"}],"mark":{"type":"text","align":"left","baseline":"middle","fontSize":7.8,"color":"#333333"},"encoding":{"x":{"datum":1500,"type":"quantitative"},"y":{"datum":-0.2,"type":"quantitative"},"text":{"field":"label"}}}
]},
{"width":78,"height":148,
"layer":[
{"data":{"name":"bars"},"transform":[{"filter":"datum.p==='B4'"}],"mark":{"type":"bar","stroke":"#eeeeee","strokeWidth":0.8},"encoding":{"x":{"field":"pair","type":"nominal","scale":{"paddingInner":0.2,"paddingOuter":0.05},"axis":{"orient":"bottom","title":null,"labelAngle":0,"labelExpr":"split(datum.value, ' vs ')[1]"}},"y":{"field":"v","type":"quantitative","stack":"zero","scale":{"domain":[0,100],"nice":false},"title":"% of unique gene sequence","axis":{"values":[0,20,40,60,80,100]}},"color":{"field":"src","type":"nominal","scale":{"domain":["Ensembl92 (Ens92)","Ensembl98 (Ens98)","RefSeq (RefS)","Shared"],"range":["#1f77b4","#ff7f0e","#2ca02c","#7f7f7f"]},"legend":null},"order":{"field":"o","type":"quantitative"}}},
{"data":{"name":"errs"},"transform":[{"filter":"datum.p==='B4'"}],"mark":{"type":"rule","color":"#000000","strokeWidth":2},"encoding":{"x":{"field":"pair","type":"nominal","axis":{"orient":"top","title":null,"labelAngle":0,"labelExpr":"split(datum.value, ' vs ')[0]"}},"y":{"field":"lo","type":"quantitative","scale":{"domain":[0,100],"nice":false},"title":"% of unique gene sequence","axis":{"values":[0,20,40,60,80,100]}},"y2":{"field":"hi"}}}
],"resolve":{"axis":{"x":"independent"}}},
{"width":112,"height":148,
"layer":[
{"data":{"name":"viol"},"transform":[{"filter":"datum.p==='B5'"}],"mark":{"type":"trail","color":"#3f3f3f","clip":true},"encoding":{"x":{"field":"c","type":"nominal","axis":{"title":null,"labelAngle":0}},"y":{"field":"y","type":"quantitative","scale":{"domain":[0,100],"nice":false},"title":"% of exon overlapped","axis":{"values":[0,20,40,60,80,100]}},"detail":{"field":"c"},"order":{"field":"y","type":"quantitative"},"size":{"field":"d","type":"quantitative","scale":{"domain":[0,1],"range":[3,35]},"legend":null}}},
{"data":{"name":"viol"},"transform":[{"filter":"datum.p==='B5'"}],"mark":{"type":"trail","clip":true},"encoding":{"x":{"field":"c","type":"nominal","axis":{"title":null,"labelAngle":0}},"y":{"field":"y","type":"quantitative","scale":{"domain":[0,100],"nice":false},"title":"% of exon overlapped","axis":{"values":[0,20,40,60,80,100]}},"color":{"field":"c","type":"nominal","scale":{"domain":["Ens92","Ens98","RefS"],"range":["#1f77b4","#ff7f0e","#2ca02c"]},"legend":null},"order":{"field":"y","type":"quantitative"},"size":{"field":"d","type":"quantitative","scale":{"domain":[0,1],"range":[0,32]},"legend":null}}},
{"data":{"name":"box"},"transform":[{"filter":"datum.p==='B5'"}],"mark":{"type":"rule","color":"#3f3f3f","strokeWidth":1.5},"encoding":{"x":{"field":"c","type":"nominal","axis":{"title":null,"labelAngle":0}},"y":{"field":"lo","type":"quantitative","scale":{"domain":[0,100],"nice":false},"title":"% of exon overlapped","axis":{"values":[0,20,40,60,80,100]}},"y2":{"field":"hi"}}},
{"data":{"name":"box"},"transform":[{"filter":"datum.p==='B5'"}],"mark":{"type":"rule","color":"#3f3f3f","strokeWidth":5},"encoding":{"x":{"field":"c","type":"nominal","axis":{"title":null,"labelAngle":0}},"y":{"field":"q1","type":"quantitative","scale":{"domain":[0,100],"nice":false},"title":"% of exon overlapped","axis":{"values":[0,20,40,60,80,100]}},"y2":{"field":"q3"}}},
{"data":{"name":"box"},"transform":[{"filter":"datum.p==='B5'"}],"mark":{"type":"point","filled":true,"color":"#ffffff","opacity":1,"size":8},"encoding":{"x":{"field":"c","type":"nominal","axis":{"title":null,"labelAngle":0}},"y":{"field":"med","type":"quantitative","scale":{"domain":[0,100],"nice":false},"title":"% of exon overlapped","axis":{"values":[0,20,40,60,80,100]}}}}
],"resolve":{"scale":{"size":"independent"}}},

{"width":114,"height":148,"title":{"text":"C","anchor":"start","frame":"bounds","fontSize":11.5,"offset":3},
"layer":[
{"data":{"name":"viol"},"transform":[{"filter":"datum.p==='C1'"}],"mark":{"type":"trail","color":"#3f3f3f","clip":true},"encoding":{"x":{"field":"c","type":"nominal","axis":{"title":null,"labelAngle":0}},"y":{"field":"y","type":"quantitative","scale":{"domain":[0,100],"nice":false},"title":"% of exon overlapped","axis":{"values":[0,20,40,60,80,100]}},"detail":{"field":"c"},"order":{"field":"y","type":"quantitative"},"size":{"field":"d","type":"quantitative","scale":{"domain":[0,1],"range":[3,35]},"legend":null}}},
{"data":{"name":"viol"},"transform":[{"filter":"datum.p==='C1'"}],"mark":{"type":"trail","clip":true},"encoding":{"x":{"field":"c","type":"nominal","axis":{"title":null,"labelAngle":0}},"y":{"field":"y","type":"quantitative","scale":{"domain":[0,100],"nice":false},"title":"% of exon overlapped","axis":{"values":[0,20,40,60,80,100]}},"color":{"field":"c","type":"nominal","scale":{"domain":["Ens92","Ens98","RefS"],"range":["#1f77b4","#ff7f0e","#2ca02c"]},"legend":null},"order":{"field":"y","type":"quantitative"},"size":{"field":"d","type":"quantitative","scale":{"domain":[0,1],"range":[0,32]},"legend":null}}},
{"data":{"name":"box"},"transform":[{"filter":"datum.p==='C1'"}],"mark":{"type":"rule","color":"#3f3f3f","strokeWidth":1.5},"encoding":{"x":{"field":"c","type":"nominal","axis":{"title":null,"labelAngle":0}},"y":{"field":"lo","type":"quantitative","scale":{"domain":[0,100],"nice":false},"title":"% of exon overlapped","axis":{"values":[0,20,40,60,80,100]}},"y2":{"field":"hi"}}},
{"data":{"name":"box"},"transform":[{"filter":"datum.p==='C1'"}],"mark":{"type":"rule","color":"#3f3f3f","strokeWidth":5},"encoding":{"x":{"field":"c","type":"nominal","axis":{"title":null,"labelAngle":0}},"y":{"field":"q1","type":"quantitative","scale":{"domain":[0,100],"nice":false},"title":"% of exon overlapped","axis":{"values":[0,20,40,60,80,100]}},"y2":{"field":"q3"}}},
{"data":{"name":"box"},"transform":[{"filter":"datum.p==='C1'"}],"mark":{"type":"point","filled":true,"color":"#ffffff","opacity":1,"size":8},"encoding":{"x":{"field":"c","type":"nominal","axis":{"title":null,"labelAngle":0}},"y":{"field":"med","type":"quantitative","scale":{"domain":[0,100],"nice":false},"title":"% of exon overlapped","axis":{"values":[0,20,40,60,80,100]}}}}
],"resolve":{"scale":{"size":"independent"}}},
{"width":75,"height":148,
"layer":[
{"data":{"name":"bars"},"transform":[{"filter":"datum.p==='C2'"}],"mark":{"type":"bar","stroke":"#eeeeee","strokeWidth":0.8},"encoding":{"x":{"field":"pair","type":"nominal","scale":{"paddingInner":0.2,"paddingOuter":0.05},"axis":{"orient":"bottom","title":null,"labelAngle":0,"labelExpr":"split(datum.value, ' vs ')[1]"}},"y":{"field":"v","type":"quantitative","stack":"zero","scale":{"domain":[0,100],"nice":false},"title":"% of unique gene sequence","axis":{"values":[0,20,40,60,80,100]}},"color":{"field":"src","type":"nominal","scale":{"domain":["Ensembl92 (Ens92)","Ensembl98 (Ens98)","RefSeq (RefS)","Shared"],"range":["#1f77b4","#ff7f0e","#2ca02c","#7f7f7f"]},"legend":null},"order":{"field":"o","type":"quantitative"}}},
{"data":{"name":"errs"},"transform":[{"filter":"datum.p==='C2'"}],"mark":{"type":"rule","color":"#000000","strokeWidth":2},"encoding":{"x":{"field":"pair","type":"nominal","axis":{"orient":"top","title":null,"labelAngle":0,"labelExpr":"split(datum.value, ' vs ')[0]"}},"y":{"field":"lo","type":"quantitative","scale":{"domain":[0,100],"nice":false},"title":"% of unique gene sequence","axis":{"values":[0,20,40,60,80,100]}},"y2":{"field":"hi"}}}
],"resolve":{"axis":{"x":"independent"}}},
{"width":87,"height":148,"title":{"text":"Expression mode 10","fontSize":9.3,"anchor":"middle","frame":"group","offset":-3},
"layer":[
{"data":{"values":[{}]},"mark":{"type":"rule","color":"#444444","strokeDash":[1.5,1.5],"strokeWidth":0.9},"encoding":{"y":{"datum":0,"type":"quantitative","scale":{"domain":[-1,1],"nice":false},"title":"Weights","axis":{"values":[-1,-0.5,0,0.5,1],"format":".1f"}}}},
{"data":{"name":"lines"},"transform":[{"filter":"datum.p==='C3'"}],"mark":{"type":"line","strokeWidth":2,"clip":true},"encoding":{"x":{"field":"x","type":"quantitative","scale":{"domain":[-1350,28350],"nice":false,"zero":false},"title":"Genes","axis":{"values":[0,10000,20000],"format":"d"}},"y":{"field":"w","type":"quantitative","scale":{"domain":[-1,1],"nice":false},"title":"Weights","axis":{"values":[-1,-0.5,0,0.5,1],"format":".1f"}},"color":{"field":"s","type":"nominal","scale":{"domain":["neg","mid","pos"],"range":["#ff0000","#000000","#0000ff"]},"legend":null},"order":{"field":"x","type":"quantitative"}}},
{"data":{"name":"ann"},"transform":[{"filter":"datum.p==='C3' && datum.side==='pos'"}],"mark":{"type":"text","align":"right","baseline":"middle","fontSize":7.8,"color":"#333333"},"encoding":{"x":{"datum":25700,"type":"quantitative"},"y":{"datum":0.2,"type":"quantitative"},"text":{"field":"label"}}},
{"data":{"name":"ann"},"transform":[{"filter":"datum.p==='C3' && datum.side==='neg'"}],"mark":{"type":"text","align":"left","baseline":"middle","fontSize":7.8,"color":"#333333"},"encoding":{"x":{"datum":1500,"type":"quantitative"},"y":{"datum":-0.2,"type":"quantitative"},"text":{"field":"label"}}}
]},
{"width":78,"height":148,
"layer":[
{"data":{"name":"bars"},"transform":[{"filter":"datum.p==='C4'"}],"mark":{"type":"bar","stroke":"#eeeeee","strokeWidth":0.8},"encoding":{"x":{"field":"pair","type":"nominal","scale":{"paddingInner":0.2,"paddingOuter":0.05},"axis":{"orient":"bottom","title":null,"labelAngle":0,"labelExpr":"split(datum.value, ' vs ')[1]"}},"y":{"field":"v","type":"quantitative","stack":"zero","scale":{"domain":[0,100],"nice":false},"title":"% of unique gene sequence","axis":{"values":[0,20,40,60,80,100]}},"color":{"field":"src","type":"nominal","scale":{"domain":["Ensembl92 (Ens92)","Ensembl98 (Ens98)","RefSeq (RefS)","Shared"],"range":["#1f77b4","#ff7f0e","#2ca02c","#7f7f7f"]},"legend":null},"order":{"field":"o","type":"quantitative"}}},
{"data":{"name":"errs"},"transform":[{"filter":"datum.p==='C4'"}],"mark":{"type":"rule","color":"#000000","strokeWidth":2},"encoding":{"x":{"field":"pair","type":"nominal","axis":{"orient":"top","title":null,"labelAngle":0,"labelExpr":"split(datum.value, ' vs ')[0]"}},"y":{"field":"lo","type":"quantitative","scale":{"domain":[0,100],"nice":false},"title":"% of unique gene sequence","axis":{"values":[0,20,40,60,80,100]}},"y2":{"field":"hi"}}}
],"resolve":{"axis":{"x":"independent"}}},
{"width":112,"height":148,
"layer":[
{"data":{"name":"viol"},"transform":[{"filter":"datum.p==='C5'"}],"mark":{"type":"trail","color":"#3f3f3f","clip":true},"encoding":{"x":{"field":"c","type":"nominal","axis":{"title":null,"labelAngle":0}},"y":{"field":"y","type":"quantitative","scale":{"domain":[0,100],"nice":false},"title":"% of exon overlapped","axis":{"values":[0,20,40,60,80,100]}},"detail":{"field":"c"},"order":{"field":"y","type":"quantitative"},"size":{"field":"d","type":"quantitative","scale":{"domain":[0,1],"range":[3,35]},"legend":null}}},
{"data":{"name":"viol"},"transform":[{"filter":"datum.p==='C5'"}],"mark":{"type":"trail","clip":true},"encoding":{"x":{"field":"c","type":"nominal","axis":{"title":null,"labelAngle":0}},"y":{"field":"y","type":"quantitative","scale":{"domain":[0,100],"nice":false},"title":"% of exon overlapped","axis":{"values":[0,20,40,60,80,100]}},"color":{"field":"c","type":"nominal","scale":{"domain":["Ens92","Ens98","RefS"],"range":["#1f77b4","#ff7f0e","#2ca02c"]},"legend":null},"order":{"field":"y","type":"quantitative"},"size":{"field":"d","type":"quantitative","scale":{"domain":[0,1],"range":[0,32]},"legend":null}}},
{"data":{"name":"box"},"transform":[{"filter":"datum.p==='C5'"}],"mark":{"type":"rule","color":"#3f3f3f","strokeWidth":1.5},"encoding":{"x":{"field":"c","type":"nominal","axis":{"title":null,"labelAngle":0}},"y":{"field":"lo","type":"quantitative","scale":{"domain":[0,100],"nice":false},"title":"% of exon overlapped","axis":{"values":[0,20,40,60,80,100]}},"y2":{"field":"hi"}}},
{"data":{"name":"box"},"transform":[{"filter":"datum.p==='C5'"}],"mark":{"type":"rule","color":"#3f3f3f","strokeWidth":5},"encoding":{"x":{"field":"c","type":"nominal","axis":{"title":null,"labelAngle":0}},"y":{"field":"q1","type":"quantitative","scale":{"domain":[0,100],"nice":false},"title":"% of exon overlapped","axis":{"values":[0,20,40,60,80,100]}},"y2":{"field":"q3"}}},
{"data":{"name":"box"},"transform":[{"filter":"datum.p==='C5'"}],"mark":{"type":"point","filled":true,"color":"#ffffff","opacity":1,"size":8},"encoding":{"x":{"field":"c","type":"nominal","axis":{"title":null,"labelAngle":0}},"y":{"field":"med","type":"quantitative","scale":{"domain":[0,100],"nice":false},"title":"% of exon overlapped","axis":{"values":[0,20,40,60,80,100]}}}}
],"resolve":{"scale":{"size":"independent"}}},

{"width":1,"height":16,"view":{"stroke":null},
"data":{"name":"leg"},
"mark":{"type":"square","opacity":0},
"encoding":{"color":{"field":"src","type":"nominal","scale":{"domain":["Ensembl92 (Ens92)","Ensembl98 (Ens98)","RefSeq (RefS)","Shared"],"range":["#1f77b4","#ff7f0e","#2ca02c","#7f7f7f"]},
"legend":{"orient":"none","legendX":97,"legendY":-15,"direction":"horizontal","columns":4,"title":"Legend","titleOrient":"left","titleFontSize":8.8,"titleFontWeight":"bold","titleColor":"#000000","titlePadding":31,"titleBaseline":"middle","labelFontSize":7.7,"labelColor":"#222222","symbolType":"square","symbolSize":64,"symbolOpacity":1,"symbolStrokeWidth":0,"columnPadding":33,"labelOffset":4,"strokeColor":"#555555","padding":3.5}}}}
],
"columns": 5,
"spacing": {"row": 45, "column": 39},
"bounds": "flush",
"resolve": {"scale": {"color": "independent", "size": "independent"}},
"config": {
"font": "Liberation Sans",
"view": {"stroke": "#333333", "strokeWidth": 1},
"axis": {"labelFontSize": 7.5, "titleFontSize": 7.5, "titleFontWeight": "normal", "labelColor": "#333333", "titleColor": "#333333", "tickColor": "#333333", "domain": false, "grid": false, "tickSize": 3.5, "tickWidth": 0.8, "labelPadding": 1.5, "titlePadding": 3, "labelFlush": false, "labelOverlap": false},
"title": {"fontWeight": "bold", "color": "#000000"}
}
}
